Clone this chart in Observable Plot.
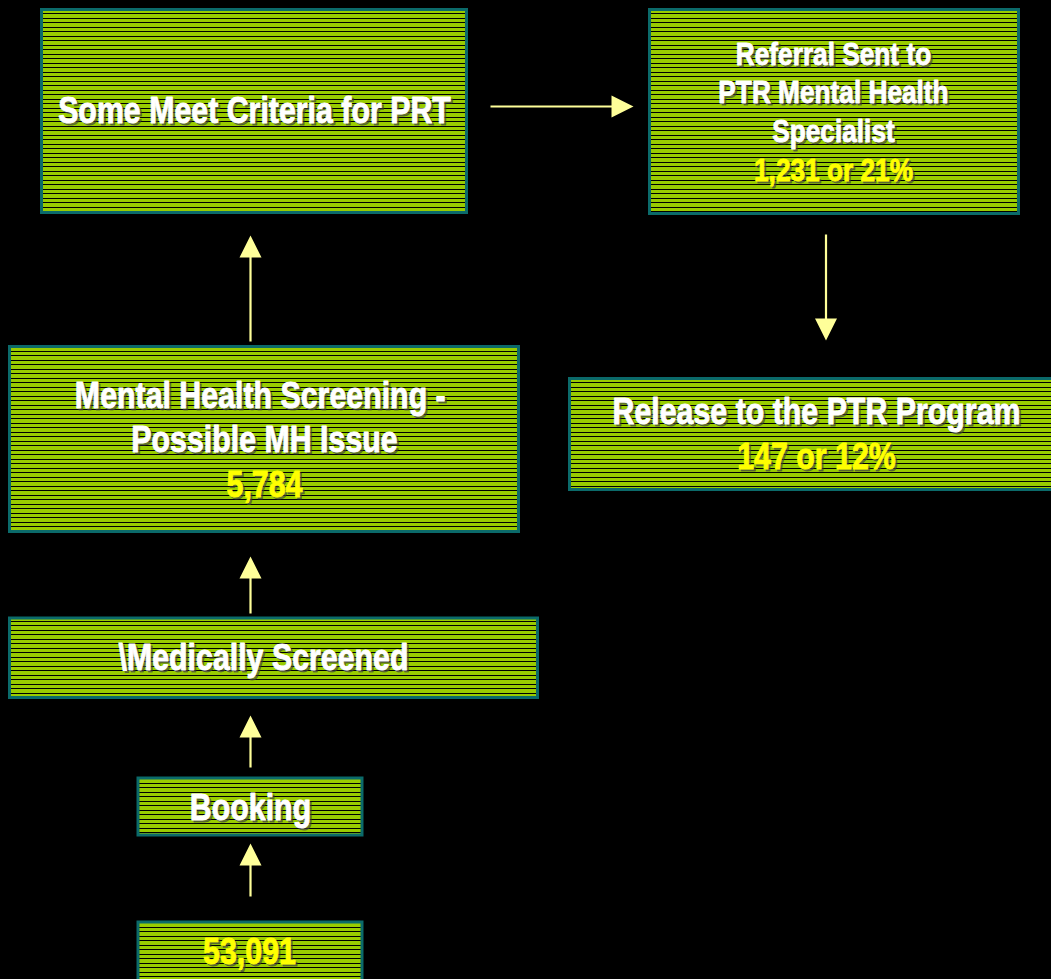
<!DOCTYPE html>
<html><head><meta charset="utf-8">
<script src="https://cdn.jsdelivr.net/npm/d3@7"></script>
<script src="https://cdn.jsdelivr.net/npm/@observablehq/plot@0.6"></script>
<style>html,body{margin:0;padding:0;background:#000;overflow:hidden}</style>
</head><body><div id="chart"></div>
<script>
// ---- data ----
const stageLabels = [
  "Some Meet Criteria for PRT",
  "Referral Sent to\nPTR Mental Health\nSpecialist",
  "Mental Health Screening -\u00a0\nPossible MH Issue",
  "Release to the PTR Program",
  "\\Medically Screened",
  "Booking",
  ""
];
const stageValues = ["", "1,231 or 21%", "5,784", "147 or 12%", "", "", "53,091"];
// flow: from stage index -> to stage index
const flowFrom = [6, 5, 4, 2, 0, 1];
const flowTo   = [5, 4, 2, 0, 1, 3];

// ---- layout (positions only) ----
const boxLayout = [
  {x1: 41.5, x2: 466.5, y1: 9.5,  y2: 212.5, tx: 254, ty: 111,   fs: 37},
  {x1: 649.5, x2: 1018.5, y1: 9.5, y2: 213.5, tx: 833, ty: 112,  fs: 32},
  {x1: 9.5,  x2: 518.5, y1: 346.5, y2: 531.5, tx: 264, ty: 440,  fs: 37},
  {x1: 569.5, x2: 1066, y1: 378.5, y2: 489.5, tx: 816, ty: 434.5, fs: 37},
  {x1: 9.5,  x2: 537.5, y1: 618,   y2: 697.5, tx: 263, ty: 658,  fs: 37},
  {x1: 138,  x2: 362,   y1: 778,   y2: 835,   tx: 250, ty: 808,  fs: 37},
  {x1: 138,  x2: 362,   y1: 922,   y2: 990,   tx: 249, ty: 951.5, fs: 37}
];
const arrowLayout = [
  {x1: 250, y1: 896, x2: 250, y2: 843},
  {x1: 250, y1: 767, x2: 250, y2: 715},
  {x1: 250, y1: 613, x2: 250, y2: 556},
  {x1: 250, y1: 341, x2: 250, y2: 235},
  {x1: 490, y1: 106, x2: 633, y2: 106},
  {x1: 825.5, y1: 234, x2: 825.5, y2: 340}
];

// ---- build tables ----
const boxes = stageLabels.map((label, i) => ({label, value: stageValues[i], ...boxLayout[i]}));
const lines = [];
boxes.forEach(b => {
  const ls = b.label ? b.label.split("\n").map(t => ({t, c: "#ffffff"})) : [];
  if (b.value) ls.push({t: b.value, c: "#ffff00"});
  const lh = b.fs * 1.21;
  ls.forEach((l, j) => lines.push({text: l.t, color: l.c, x: b.tx, y: b.ty + (j - (ls.length - 1) / 2) * lh, fs: b.fs}));
});
const HEAD = 22;
const arrows = flowFrom.map((f, i) => {
  const a = arrowLayout[i];
  const dx = a.x2 - a.x1, dy = a.y2 - a.y1, L = Math.hypot(dx, dy);
  const ux = dx / L, uy = dy / L;
  return {from: f, to: flowTo[i], x1: a.x1, y1: a.y1,
    bx: a.x2 - ux * (HEAD - 2), by: a.y2 - uy * (HEAD - 2),
    hx: a.x2 - ux * HEAD / 2, hy: a.y2 - uy * HEAD / 2,
    angle: Math.atan2(dx, -dy) * 180 / Math.PI};
});
const triangle = {
  draw(ctx, size) {
    const r = Math.sqrt(size / Math.PI);
    ctx.moveTo(0, -r); ctx.lineTo(r, r); ctx.lineTo(-r, r); ctx.closePath();
  }
};

const font = "'Liberation Sans', Arial, sans-serif";

const svg = Plot.plot({
  width: 1051, height: 979, margin: 0,
  x: {domain: [0, 1051], range: [0, 1051], axis: null},
  y: {domain: [0, 979], range: [0, 979], axis: null},
  style: {background: "#000", color: "#fff"},
  marks: [
    Plot.rect(boxes, {x1: "x1", x2: "x2", y1: "y1", y2: "y2", fill: "url(#stripes)", stroke: "#0b6a6a", strokeWidth: 3}),
    Plot.link(arrows, {x1: "x1", y1: "y1", x2: "bx", y2: "by", stroke: "#ffff99", strokeWidth: 2.2}),
    Plot.dot(arrows, {x: "hx", y: "hy", r: HEAD / 2, symbol: triangle, rotate: "angle", fill: "#ffff99", stroke: "none"}),
    Plot.text(lines, {x: "x", y: "y", text: "text", dx: 2, dy: 2, fill: "#404040", fillOpacity: 0.6, stroke: "#404040", strokeOpacity: 0.6, strokeWidth: 0.9, fontSize: d => d.fs, fontWeight: "bold", fontFamily: font, textAnchor: "middle", lineAnchor: "middle", className: "lbl"}),
    Plot.text(lines, {x: "x", y: "y", text: "text", fill: "color", stroke: "color", strokeWidth: 0.9, fontSize: d => d.fs, fontWeight: "bold", fontFamily: font, textAnchor: "middle", lineAnchor: "middle", className: "lbl"})
  ]
});
const ns = "http://www.w3.org/2000/svg";
const defs = document.createElementNS(ns, "defs");
defs.innerHTML = '<pattern id="stripes" patternUnits="userSpaceOnUse" x="0" y="0" width="10" height="9">' +
  '<rect width="10" height="9" fill="#99cc00"/><rect y="0" width="10" height="1" fill="#000"/><rect y="4" width="10" height="1" fill="#000"/></pattern>';
svg.insertBefore(defs, svg.firstChild);
// condense the bold sans horizontally (Arial Narrow look)
svg.querySelectorAll("g.lbl text, .lbl text").forEach(t => {
  const tr = t.getAttribute("transform") || "";
  t.setAttribute("transform", tr + " scale(0.82,1)");
});
document.getElementById("chart").appendChild(svg);
</script>
</body></html>
